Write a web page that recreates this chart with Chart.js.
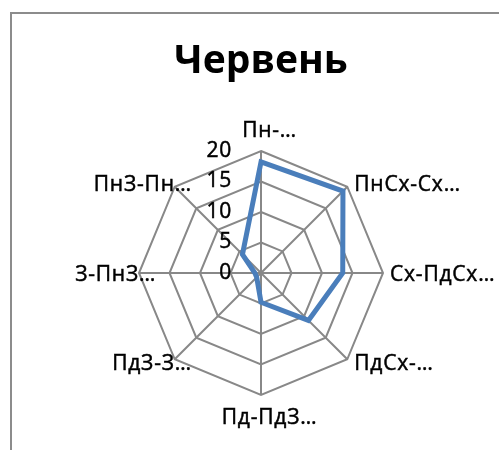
<!DOCTYPE html>
<html>
<head>
<meta charset="utf-8">
<script src="https://cdn.jsdelivr.net/npm/chart.js@4.4.1/dist/chart.umd.min.js"></script>
<style>
    html, body { margin: 0; padding: 0; background: #fff; overflow: hidden; }
    #frame {
        position: absolute; left: 10px; top: 12px; width: 600px; height: 600px;
        border-left: 2px solid #8c8c8c; border-top: 2px solid #8c8c8c;
    }
    #chart { position: absolute; left: 0; top: 0; }
</style>
</head>
<body>
<div id="frame"></div>
<canvas id="chart" width="499" height="450"></canvas>
<script>
// Chart data
const categories = ['Пн-…', 'ПнСх-Сх…', 'Сх-ПдСх…', 'ПдСх-…', 'Пд-ПдЗ…', 'ПдЗ-З…', 'З-ПнЗ…', 'ПнЗ-Пн…'];
const values = [18.2, 19, 13.4, 11, 4.8, 1, 1, 4.3];
const tickValues = [0, 5, 10, 15, 20];

// Colors
const colors = {
    line: '#4a7ebb',
    grid: '#888888',
    text: '#000000'
};

/**
 * Draws tick numbers left of the vertical axis and the category labels,
 * positioned from the radial scale itself
 */
const radarText = {
    id: 'radarText',
    afterDraw(chart) {
        const scale = chart.scales.r;
        const ctx = chart.ctx;
        ctx.save();
        ctx.fillStyle = colors.text;
        ctx.strokeStyle = colors.text;
        ctx.lineWidth = 0.5;
        ctx.font = '21px "Open Sans"';
        ctx.letterSpacing = '0.8px';

        const put = (text, x, y) => {
            ctx.fillText(text, x, y);
            ctx.strokeText(text, x, y);
        };

        ctx.textAlign = 'right';
        ctx.textBaseline = 'middle';
        tickValues.forEach(v => {
            const d = scale.getDistanceFromCenterForValue(v);
            put(String(v), scale.xCenter - 29, scale.yCenter - d);
        });

        ctx.textAlign = 'left';
        ctx.textBaseline = 'alphabetic';
        categories.forEach((label, i) => {
            const p = scale.getPointPosition(i, scale.drawingArea);
            const ang = scale.getIndexAngle(i) - Math.PI / 2;
            const cx = Math.cos(ang);
            const cy = Math.sin(ang);
            // align on the text without the trailing ellipsis
            const bw = ctx.measureText(label.replace(/…$/, '')).width;
            let x, y;
            if (Math.abs(cx) < 0.1) {
                x = p.x - bw / 2;
                y = cy < 0 ? p.y - 14 : p.y + 29;
            } else {
                x = cx > 0 ? p.x + 7 : p.x - bw;
                y = p.y + 7.5 + 5 * cy;
            }
            put(label, x, y);
        });
        ctx.restore();
    }
};

new Chart(document.getElementById('chart'), {
    type: 'radar',
    data: {
        labels: categories,
        datasets: [{
            label: 'Червень',
            data: values,
            borderColor: colors.line,
            backgroundColor: 'transparent',
            borderWidth: 5,
            borderJoinStyle: 'miter',
            pointRadius: 0,
            fill: false
        }]
    },
    options: {
        responsive: false,
        animation: false,
        layout: {
            padding: { left: 139, right: 116, top: 0, bottom: 55 }
        },
        plugins: {
            legend: { display: false },
            tooltip: { enabled: false },
            title: {
                display: true,
                text: 'Червень',
                color: colors.text,
                font: { family: 'Open Sans', size: 39, weight: 'bold' },
                padding: { top: 38.6, bottom: 65.6 }
            }
        },
        scales: {
            r: {
                min: 0,
                max: 20,
                ticks: { stepSize: 5, display: false },
                pointLabels: { display: false },
                grid: { color: colors.grid, lineWidth: 2 },
                angleLines: { color: colors.grid, lineWidth: 2 }
            }
        }
    },
    plugins: [radarText]
});
</script>
</body>
</html>
